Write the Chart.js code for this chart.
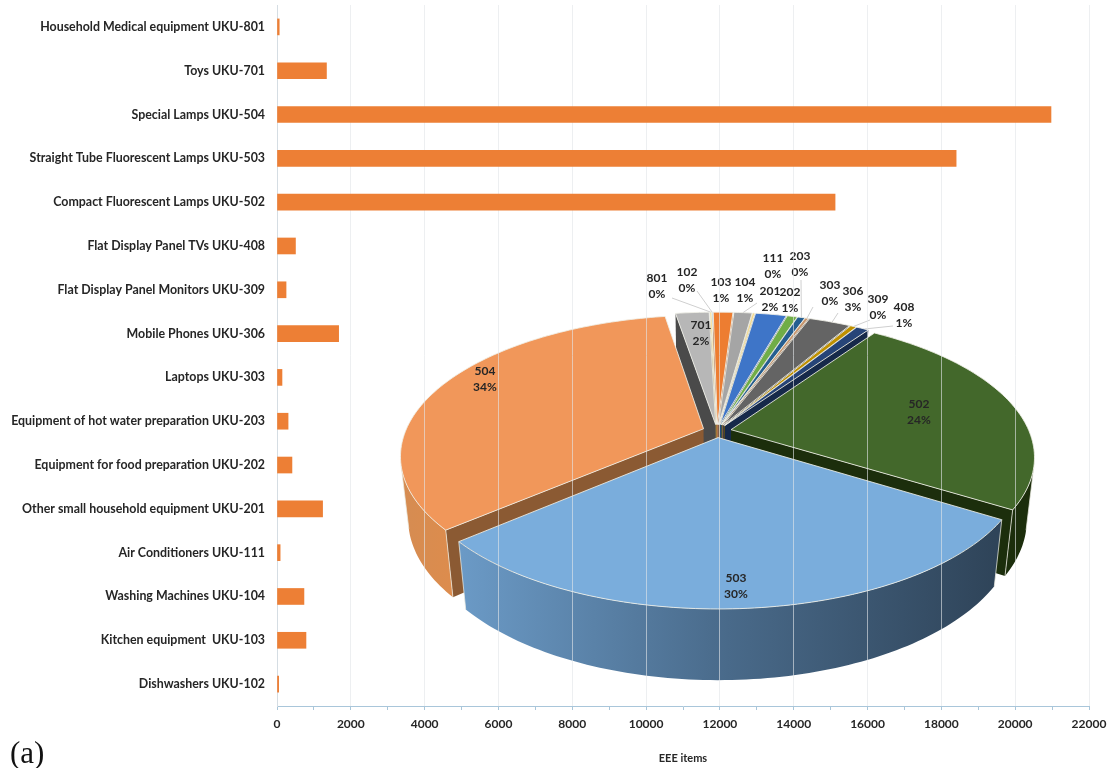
<!DOCTYPE html>
<html>
<head>
<meta charset="utf-8">
<title>EEE items by UKU category</title>
<script src="https://cdn.jsdelivr.net/npm/chart.js@4"></script>
<style>
  html, body { margin: 0; padding: 0; background: #fff; overflow: hidden; }
  #stage { position: relative; width: 1110px; height: 768px; }
  #stage canvas { position: absolute; left: 0; top: 0; }
  #pieCanvas { z-index: 1; }
  #barCanvas { z-index: 2; }
  #caption { position: absolute; left: 10px; top: 734px; z-index: 3;
             font: 31px "Liberation Serif", serif; color: #111; line-height: 38px; }
</style>
</head>
<body>
<div id="stage">
  <canvas id="pieCanvas" width="1110" height="768"></canvas>
  <canvas id="barCanvas" width="1110" height="768"></canvas>
  <div id="caption">(a)</div>
</div>
<script>
// Item categories, listed from the top of the bar chart downwards.
const categories = [
  'Household Medical equipment UKU-801',
  'Toys UKU-701',
  'Special Lamps UKU-504',
  'Straight Tube Fluorescent Lamps UKU-503',
  'Compact Fluorescent Lamps UKU-502',
  'Flat Display Panel TVs UKU-408',
  'Flat Display Panel Monitors UKU-309',
  'Mobile Phones UKU-306',
  'Laptops UKU-303',
  'Equipment of hot water preparation UKU-203',
  'Equipment for food preparation UKU-202',
  'Other small household equipment UKU-201',
  'Air Conditioners UKU-111',
  'Washing Machines UKU-104',
  'Kitchen equipment  UKU-103',
  'Dishwashers UKU-102'
];
const itemCounts = [60, 1340, 20970, 18400, 15120, 500, 245, 1670, 135, 300, 405, 1235, 85, 730, 785, 45];
const axisMax = 22000;
const axisStep = 1000;

// The pie runs the other way round: lowest UKU code first, clockwise from the top.
const pieCounts = itemCounts.slice().reverse();
const pieCodes = categories.slice().reverse().map(name => name.match(/UKU-(\d+)/)[1]);

// Top face, side wall and cut face colours per pie code.
const topColors = {
  102: '#5B9BD5', 103: '#ED7D31', 104: '#A5A5A5', 111: '#F5D77E', 201: '#3E75C8', 202: '#70AD47',
  203: '#255E91', 303: '#C8956C', 306: '#646464', 309: '#BF9000', 408: '#264478', 502: '#43682B',
  503: '#7AADDC', 504: '#F1975A', 701: '#B7B7B7', 801: '#FFD966'
};
const cutColors = {
  102: '#3A6A94', 103: '#9C5020', 104: '#6C6C6C', 111: '#A08E50', 201: '#24467C', 202: '#47702C',
  203: '#173A5A', 303: '#7C5C42', 306: '#3E3E3E', 309: '#7A5C00', 408: '#16294A', 502: '#1C2E0C',
  503: '#3F5E7C', 504: '#8B5A33', 701: '#4A4A4A', 801: '#A88C40'
};

// Label anchors for the pie, with an optional leader start point.
const pieLabelLayout = {
  102: { x: 687, y: 272, from: [697, 291] },
  103: { x: 721, y: 282 },
  104: { x: 745, y: 282, from: [757, 303] },
  111: { x: 773, y: 258 },
  201: { x: 770, y: 291 },
  202: { x: 790, y: 292 },
  203: { x: 800, y: 256, from: [801, 280] },
  303: { x: 830, y: 285, from: [813, 307] },
  306: { x: 853, y: 291, from: [838, 313] },
  309: { x: 878, y: 299, from: [870, 320] },
  408: { x: 904, y: 307, from: [893, 326] },
  502: { x: 919, y: 404 },
  503: { x: 736, y: 578 },
  504: { x: 485, y: 371 },
  701: { x: 701, y: 325 },
  801: { x: 657, y: 278, from: [672, 298] }
};

// Camera used to lay the flat pie down as a thick, exploded disc.
const view = { cx: 717, cy: 431, rx: 298, tilt: 136, depth: 63, persp: 0.19, sink: 0.024 };

function project(u, v, z) {
  const s = 1 / (1 - view.persp * v + view.sink * z);
  return [view.cx + view.rx * u * s, view.cy + (view.tilt * v + view.depth * z) * s];
}

function tracePath(ctx, points) {
  ctx.beginPath();
  points.forEach((p, i) => (i ? ctx.lineTo(p[0], p[1]) : ctx.moveTo(p[0], p[1])));
  ctx.closePath();
}

function wedgeGeometry(el, offset) {
  const p = el.getProps(['startAngle', 'endAngle', 'outerRadius'], true);
  const mid = (p.startAngle + p.endAngle) / 2;
  const e = offset / p.outerRadius;
  const ox = Math.cos(mid) * e, oy = Math.sin(mid) * e;
  const steps = Math.max(2, Math.ceil((p.endAngle - p.startAngle) / 0.02));
  const rim = [];
  for (let i = 0; i <= steps; i++) {
    const a = p.startAngle + (p.endAngle - p.startAngle) * i / steps;
    rim.push([ox + Math.cos(a), oy + Math.sin(a)]);
  }
  return { ox, oy, rim, mid, depthKey: oy + Math.sin(mid) * 0.6 };
}

// A wall on a clockwise boundary edge faces the viewer when this is negative.
function facesViewer(a, b) {
  const p = project(a[0], a[1], 0), q = project(b[0], b[1], 0), l = project(a[0], a[1], 1);
  return (q[0] - p[0]) * (l[1] - p[1]) - (q[1] - p[1]) * (l[0] - p[0]) < 0;
}

function wallFill(ctx, code) {
  if (code === '503') {
    const g = ctx.createLinearGradient(460, 0, 995, 0);
    g.addColorStop(0, '#6B9AC6');
    g.addColorStop(0.5, '#496A8A');
    g.addColorStop(1, '#2F4459');
    return g;
  }
  if (code === '504') {
    const g = ctx.createLinearGradient(400, 0, 460, 0);
    g.addColorStop(0, '#D58C52');
    g.addColorStop(1, '#DE8C4C');
    return g;
  }
  return cutColors[code];
}

const discPlugin = {
  id: 'disc',
  beforeDatasetDraw(chart, args) {
    const ctx = chart.ctx;
    const offsets = chart.data.datasets[0].offset;
    const wedges = args.meta.data.map((el, i) => {
      const w = wedgeGeometry(el, offsets);
      w.code = pieCodes[i];
      return w;
    });
    wedges.slice().sort((a, b) => a.depthKey - b.depthKey).forEach(w => {
      const apex = [w.ox, w.oy];
      const first = w.rim[0], last = w.rim[w.rim.length - 1];
      ctx.save();
      ctx.lineJoin = 'round';

      // Radial cut faces.
      [[apex, first], [last, apex]].forEach(([a, b]) => {
        if (!facesViewer(a, b)) return;
        tracePath(ctx, [project(a[0], a[1], 0), project(b[0], b[1], 0), project(b[0], b[1], 1), project(a[0], a[1], 1)]);
        ctx.fillStyle = cutColors[w.code];
        ctx.fill();
      });

      // Outer wall, limited to the run of rim segments turned towards the viewer.
      const run = [];
      for (let i = 0; i < w.rim.length - 1; i++) {
        if (facesViewer(w.rim[i], w.rim[i + 1])) {
          if (!run.length) run.push(w.rim[i]);
          run.push(w.rim[i + 1]);
        }
      }
      if (run.length > 1) {
        const upper = run.map(r => project(r[0], r[1], 0));
        const lower = run.map(r => project(r[0], r[1], 1)).reverse();
        tracePath(ctx, upper.concat(lower));
        ctx.fillStyle = wallFill(ctx, w.code);
        ctx.fill();
        // Pale corner lines where the wall meets a cut face.
        ctx.strokeStyle = 'rgba(235,235,225,0.75)';
        ctx.lineWidth = 1;
        [run[0], run[run.length - 1]].forEach(r => {
          const a = project(r[0], r[1], 0), b = project(r[0], r[1], 1);
          ctx.beginPath(); ctx.moveTo(a[0], a[1]); ctx.lineTo(b[0], b[1]); ctx.stroke();
        });
      }

      // Top face.
      tracePath(ctx, [project(w.ox, w.oy, 0)].concat(w.rim.map(r => project(r[0], r[1], 0))));
      ctx.fillStyle = topColors[w.code];
      ctx.fill();
      ctx.strokeStyle = 'rgba(240,240,232,0.85)';
      ctx.lineWidth = 1;
      ctx.stroke();
      ctx.restore();
    });
    chart.$wedges = wedges;
    return false;
  },
  afterDraw(chart) {
    const ctx = chart.ctx;
    const total = pieCounts.reduce((a, b) => a + b, 0);
    ctx.save();

    // Leader lines run from the label to the middle of the slice's rim.
    ctx.strokeStyle = '#cfcfcf';
    ctx.lineWidth = 1;
    chart.$wedges.forEach(w => {
      const spot = pieLabelLayout[w.code];
      if (!spot.from) return;
      const m = w.rim[Math.floor(w.rim.length / 2)];
      const end = project(m[0], m[1], 0);
      ctx.beginPath();
      ctx.moveTo(spot.from[0], spot.from[1]);
      ctx.lineTo(end[0], end[1]);
      ctx.stroke();
    });

    ctx.font = 'bold 12px Lato, sans-serif';
    ctx.fillStyle = '#262626';
    ctx.textAlign = 'center';
    ctx.textBaseline = 'middle';
    pieCounts.forEach((count, i) => {
      const code = pieCodes[i];
      const spot = pieLabelLayout[code];
      ctx.fillText(code, spot.x, spot.y);
      ctx.fillText(Math.round(count / total * 100) + '%', spot.x, spot.y + 16);
    });
    ctx.restore();
  }
};

new Chart(document.getElementById('pieCanvas'), {
  type: 'pie',
  data: {
    labels: pieCodes,
    datasets: [{ data: pieCounts, offset: 18, backgroundColor: pieCodes.map(c => topColors[c]) }]
  },
  options: {
    responsive: false,
    animation: false,
    rotation: -1.2,
    events: [],
    plugins: { legend: { display: false }, tooltip: { enabled: false } }
  },
  plugins: [discPlugin]
});

new Chart(document.getElementById('barCanvas'), {
  type: 'bar',
  data: {
    labels: categories,
    datasets: [{ data: itemCounts, backgroundColor: '#ED7F35', barThickness: 16 }]
  },
  options: {
    indexAxis: 'y',
    responsive: false,
    animation: false,
    events: [],
    layout: { padding: { left: 0, right: 21, top: 5, bottom: 0 } },
    plugins: { legend: { display: false }, tooltip: { enabled: false } },
    scales: {
      x: {
        min: 0,
        max: axisMax,
        border: { color: '#a9c6da', width: 1 },
        afterFit(scale) {
          scale.height = 62;
          scale.paddingLeft = 0;
          scale.paddingRight = 0;
        },
        grid: {
          drawOnChartArea: true,
          tickLength: 4,
          color: ctx => (ctx.tick && ctx.tick.value % 2000 === 0 ? 'rgba(226,229,232,0.62)' : 'rgba(0,0,0,0)'),
          tickColor: '#a9c6da'
        },
        ticks: {
          stepSize: axisStep,
          autoSkip: false,
          maxRotation: 0,
          padding: 7,
          color: '#262626',
          font: { family: 'Lato, sans-serif', weight: 'bold', size: 12 },
          callback: value => (value % 2000 === 0 ? String(value) : '')
        },
        title: {
          display: true,
          text: 'EEE items',
          color: '#262626',
          font: { family: 'Lato, sans-serif', weight: 'bold', size: 11 },
          padding: { top: 11, bottom: 3 }
        }
      },
      y: {
        border: { color: '#d5dde3', width: 1 },
        grid: { display: false },
        afterFit(scale) {
          scale.width = 277;
          scale.paddingTop = 0;
          scale.paddingBottom = 0;
        },
        ticks: {
          autoSkip: false,
          padding: 4,
          color: '#262626',
          font: { family: 'Lato, sans-serif', weight: 'bold', size: 12.4 }
        }
      }
    }
  }
});
</script>
</body>
</html>
